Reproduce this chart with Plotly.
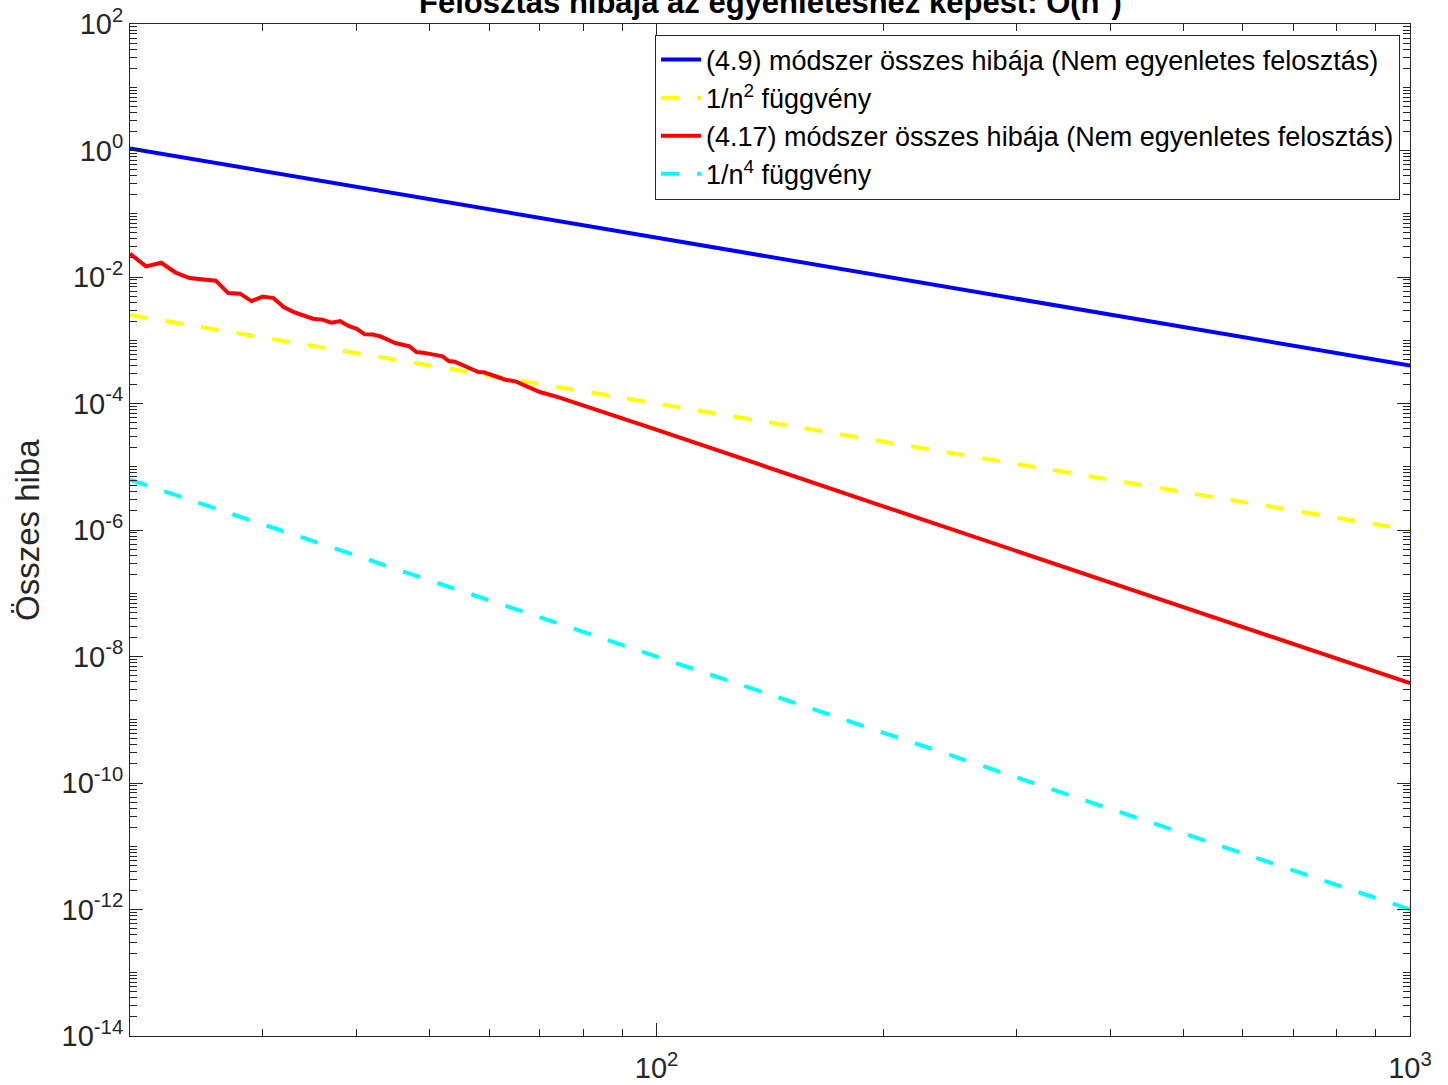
import plotly.graph_objects as go

# Number of subintervals n and the total errors of the two methods
n_blue = [20, 100, 1000]
err_blue = [1.08, 0.042, 4.0e-4]

n_ref = [20, 100, 1000]
ref_n2 = [2.5e-3, 1.0e-4, 1.0e-6]
ref_n4 = [6.25e-6, 1.0e-8, 1.0e-12]

n_red = [20, 21, 22, 23, 24, 25, 26, 27, 28, 29, 30, 31, 32, 33, 35, 36, 37, 38,
         39, 40, 41, 42, 43, 45, 47, 48, 49, 52, 53, 54, 55, 58, 59, 61, 63, 65,
         67, 70, 74, 77, 80, 84, 88, 93, 99, 200, 500, 1000]
err_red = [2.34e-2, 1.47e-2, 1.68e-2, 1.17e-2, 9.62e-3, 9.08e-3, 8.75e-3, 5.57e-3,
           5.45e-3, 4.16e-3, 4.91e-3, 4.65e-3, 3.35e-3, 2.79e-3, 2.19e-3, 2.12e-3,
           1.90e-3, 2.01e-3, 1.68e-3, 1.52e-3, 1.24e-3, 1.23e-3, 1.15e-3, 9.03e-4,
           8.01e-4, 6.51e-4, 6.37e-4, 5.57e-4, 4.69e-4, 4.59e-4, 4.16e-4, 3.14e-4,
           3.12e-4, 2.69e-4, 2.38e-4, 2.24e-4, 1.94e-4, 1.52e-4, 1.26e-4, 1.08e-4,
           9.35e-5, 7.61e-5, 6.34e-5, 5.09e-5, 4.01e-5, 2.37e-6, 6.0e-8, 3.79e-9]

y_major = [1e2, 1e0, 1e-2, 1e-4, 1e-6, 1e-8, 1e-10, 1e-12, 1e-14]
y_major_text = ["10<sup>2</sup>", "10<sup>0</sup>", "10<sup>-2</sup>", "10<sup>-4</sup>",
                "10<sup>-6</sup>", "10<sup>-8</sup>", "10<sup>-10</sup>",
                "10<sup>-12</sup>", "10<sup>-14</sup>"]
x_major = [1e2, 1e3]
x_major_text = ["10<sup>2</sup>", "10<sup>3</sup>"]

FONT = "Liberation Sans, Arial, sans-serif"
AXIS_COLOR = "#262626"

y_minor = [k * 10.0 ** d for d in range(-14, 2) for k in range(1, 10)
           if not (k == 1 and d % 2 == 0)]
x_minor = [k * 10.0 ** d for d in (1, 2) for k in range(2, 10)]

fig = go.Figure()
fig.add_trace(go.Scatter(
    x=n_blue, y=err_blue, mode="lines",
    name="(4.9) módszer összes hibája (Nem egyenletes felosztás)",
    line=dict(color="rgb(0,0,255)", width=4)))
fig.add_trace(go.Scatter(
    x=n_ref, y=ref_n2, mode="lines", name="1/n<sup>2</sup> függvény",
    line=dict(color="rgb(255,255,0)", width=4, dash="18px,18px")))
fig.add_trace(go.Scatter(
    x=n_red, y=err_red, mode="lines",
    name="(4.17) módszer összes hibája (Nem egyenletes felosztás)",
    line=dict(color="rgb(255,0,0)", width=4)))
fig.add_trace(go.Scatter(
    x=n_ref, y=ref_n4, mode="lines", name="1/n<sup>4</sup> függvény",
    line=dict(color="rgb(0,255,255)", width=4, dash="18px,18px")))

axis_common = dict(
    type="log", showgrid=False, zeroline=False, showline=True, linecolor=AXIS_COLOR,
    linewidth=1, mirror="allticks", ticks="inside", ticklen=13, tickcolor=AXIS_COLOR,
    tickwidth=1, tickfont=dict(family=FONT, size=29, color=AXIS_COLOR),
    automargin=False,
)

fig.update_xaxes(
    **axis_common, range=[1.30103, 3], tickmode="array", tickvals=x_major,
    ticktext=x_major_text, ticklabelstandoff=6,
    minor=dict(ticks="inside", ticklen=7, tickcolor=AXIS_COLOR, tickwidth=1,
               tickmode="array", tickvals=x_minor, showgrid=False))
fig.update_yaxes(
    **axis_common, range=[-14, 2], tickmode="array", tickvals=y_major,
    ticktext=y_major_text,
    minor=dict(ticks="inside", ticklen=7, tickcolor=AXIS_COLOR, tickwidth=1,
               tickmode="array", tickvals=y_minor, showgrid=False))

fig.update_layout(
    width=1448, height=1085,
    margin=dict(l=130, r=38, t=23.5, b=49),
    paper_bgcolor="white", plot_bgcolor="white",
    showlegend=True,
    legend=dict(
        x=0.9922, y=0.9896, xanchor="right", yanchor="top",
        bgcolor="white", bordercolor=AXIS_COLOR, borderwidth=1,
        font=dict(family=FONT, size=27, color="black"),
        tracegroupgap=0, itemwidth=40,
    ),
    annotations=[
        dict(text="<b>Felosztás hibája az egyenleteshez képest: O(n<sup>4</sup>)</b>",
             xref="paper", yref="paper", x=0.5, y=1, xanchor="center",
             yanchor="bottom", yshift=2, showarrow=False,
             font=dict(family=FONT, size=31, color="black")),
        dict(text="Összes hiba", xref="paper", yref="paper", x=0, y=0.5,
             xanchor="center", yanchor="middle", xshift=-103, textangle=-90,
             showarrow=False,
             font=dict(family=FONT, size=33, color=AXIS_COLOR)),
    ],
)

fig.write_html("out.html")
